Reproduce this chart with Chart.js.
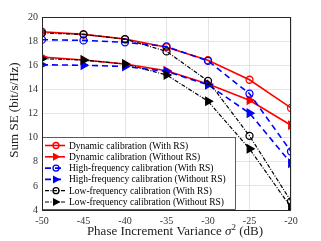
<!DOCTYPE html>
<html>
<head>
<meta charset="utf-8">
<script src="https://cdn.jsdelivr.net/npm/chart.js@4"></script>
<style>
  html, body { margin: 0; padding: 0; background: #fff; }
  #wrap { width: 321px; height: 241px; }
</style>
</head>
<body>
<div id="wrap"><canvas id="se-chart"></canvas></div>
<script>
const variance = [-50, -45, -40, -35, -30, -25, -20];
const xTicks = [-50, -45, -40, -35, -30, -25, -20];
const yTicks = [4, 6, 8, 10, 12, 14, 16, 18, 20];

const dynWithRS = [18.78, 18.56, 18.17, 17.5, 16.42, 14.8, 12.46];
const dynWithoutRS = [16.68, 16.43, 16.1, 15.54, 14.44, 13.1, 11.03];
const highWithRS = [18.12, 18.06, 17.9, 17.56, 16.36, 13.64, 8.85];
const highWithoutRS = [16.04, 16.0, 15.9, 15.49, 14.38, 12.03, 7.88];
const lowWithRS = [18.67, 18.56, 18.17, 17.15, 14.7, 10.15, 4.72];
const lowWithoutRS = [16.54, 16.43, 16.1, 15.2, 13.02, 9.07, 4.22];

const seriesNames = [
    'Dynamic calibration (With RS)',
    'Dynamic calibration (Without RS)',
    'High-frequency calibration (With RS)',
    'High-frequency calibration (Without RS)',
    'Low-frequency calibration (With RS)',
    'Low-frequency calibration (Without RS)'
];

const RED = '#ff0000', BLUE = '#0000ff', BLACK = '#000000';
const FONT = "'Liberation Serif', 'DejaVu Serif', serif";

function makeSet(label, values, color, marker, dash, width, order) {
    const tri = marker === 'tri';
    return {
        label: label,
        data: values.map((v, i) => ({ x: variance[i], y: v })),
        borderColor: color,
        backgroundColor: color,
        borderWidth: width,
        borderDash: dash,
        pointStyle: tri ? 'triangle' : 'circle',
        rotation: tri ? 90 : 0,
        pointRadius: tri ? 4.5 : 3.5,
        pointBorderWidth: 1.3,
        pointBackgroundColor: tri ? color : 'rgba(0,0,0,0)',
        pointBorderColor: color,
        tension: 0,
        fill: false,
        order: order
    };
}

const datasets = [
    makeSet(seriesNames[0], dynWithRS, RED, 'circ', [], 1.6, 6),
    makeSet(seriesNames[1], dynWithoutRS, RED, 'tri', [], 1.6, 5),
    makeSet(seriesNames[2], highWithRS, BLUE, 'circ', [6, 4], 1.6, 4),
    makeSet(seriesNames[3], highWithoutRS, BLUE, 'tri', [6, 4], 1.6, 3),
    makeSet(seriesNames[4], lowWithRS, BLACK, 'circ', [4, 1.5, 1, 1.5], 1.2, 2),
    makeSet(seriesNames[5], lowWithoutRS, BLACK, 'tri', [4, 1.5, 1, 1.5], 1.2, 1)
];

// box around the axes, axis titles and an inset legend like the MATLAB figure
const framePlugin = {
    id: 'frame',
    afterDatasetsDraw(chart) {
        const { ctx, chartArea: a } = chart;
        ctx.save();
        // legend
        const lx = a.left, ly = 137, lw = 236 - a.left, lh = a.bottom - ly;
        ctx.fillStyle = '#fff';
        ctx.fillRect(lx, ly, lw, lh);
        ctx.strokeStyle = '#333';
        ctx.lineWidth = 0.8;
        ctx.strokeRect(lx + 0.5, ly + 0.5, lw - 1, lh - 1);
        ctx.font = '9.5px ' + FONT;
        ctx.textBaseline = 'middle';
        chart.data.datasets.forEach((ds, i) => {
            const cy = ly + 8.5 + i * 11.3;
            ctx.strokeStyle = ds.borderColor;
            ctx.lineWidth = ds.borderWidth;
            ctx.setLineDash(ds.borderDash);
            ctx.beginPath();
            ctx.moveTo(lx + 3, cy);
            ctx.lineTo(lx + 23, cy);
            ctx.stroke();
            ctx.setLineDash([]);
            ctx.lineWidth = 1.3;
            ctx.fillStyle = ds.borderColor;
            const mx = lx + 14;
            if (ds.pointStyle === 'circle') {
                ctx.beginPath();
                ctx.arc(mx, cy, 3, 0, Math.PI * 2);
                ctx.stroke();
            } else {
                ctx.beginPath();
                ctx.moveTo(mx + 4.5, cy);
                ctx.lineTo(mx - 3, cy - 4);
                ctx.lineTo(mx - 3, cy + 4);
                ctx.closePath();
                ctx.fill();
            }
            ctx.fillStyle = '#000';
            ctx.fillText(ds.label, lx + 27, cy + 0.5);
        });
        // axes frame
        ctx.strokeStyle = '#262626';
        ctx.lineWidth = 1;
        ctx.strokeRect(a.left + 0.5, a.top + 0.5, a.right - a.left - 1, a.bottom - a.top);

        // x title with italic sigma
        ctx.fillStyle = '#222';
        ctx.textBaseline = 'alphabetic';
        const parts = [
            ['Phase Increment Variance ', '13px ' + FONT, 0],
            ['\u03c3', 'italic 13px ' + FONT, 0],
            ['2', '9px ' + FONT, -5],
            [' (dB)', '13px ' + FONT, 0]
        ];
        let total = 0;
        parts.forEach(p => { ctx.font = p[1]; total += ctx.measureText(p[0]).width; });
        let x = 175 - total / 2;
        parts.forEach(p => {
            ctx.font = p[1];
            ctx.fillText(p[0], x, 235 + p[2]);
            x += ctx.measureText(p[0]).width;
        });

        // y title
        ctx.translate(15, 110);
        ctx.rotate(-Math.PI / 2);
        ctx.font = '13px ' + FONT;
        ctx.textAlign = 'center';
        ctx.textBaseline = 'middle';
        ctx.fillText('Sum SE (bit/s/Hz)', 0, 0);
        ctx.restore();
    }
};

const ctx = document.getElementById('se-chart').getContext('2d');
const chart = new Chart(ctx, {
    type: 'line',
    data: { datasets: datasets },
    options: {
        responsive: true,
        maintainAspectRatio: false,
        animation: false,
        layout: { padding: { top: 17, right: 30, left: 0, bottom: 0 } },
        scales: {
            x: {
                type: 'linear',
                min: -50,
                max: -20,
                afterBuildTicks: s => { s.ticks = xTicks.map(v => ({ value: v })); },
                afterFit: s => { s.height = 31; },
                grid: { color: '#e3e3e3', drawTicks: false },
                border: { display: false },
                ticks: { color: '#333', padding: 5, font: { family: FONT, size: 10 } }
            },
            y: {
                type: 'linear',
                min: 4,
                max: 20,
                afterBuildTicks: s => { s.ticks = yTicks.map(v => ({ value: v })); },
                afterFit: s => { s.width = 42; },
                grid: { color: '#e3e3e3', drawTicks: false },
                border: { display: false },
                ticks: { color: '#333', padding: 4, font: { family: FONT, size: 10 } }
            }
        },
        plugins: {
            legend: { display: false },
            tooltip: { enabled: false }
        }
    },
    plugins: [framePlugin]
});
</script>
</body>
</html>
